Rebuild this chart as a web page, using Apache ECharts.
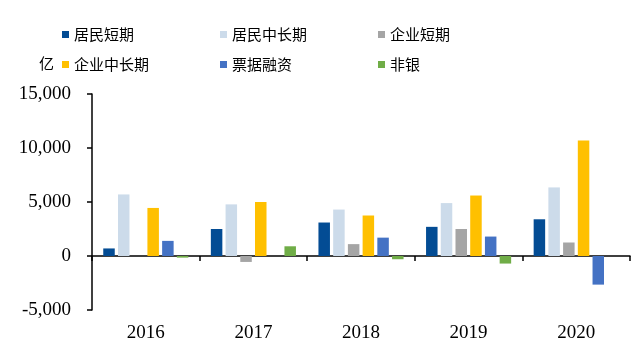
<!DOCTYPE html>
<html><head><meta charset="utf-8">
<script src="https://cdn.jsdelivr.net/npm/echarts@6/dist/echarts.min.js"></script>
<style>html,body{margin:0;padding:0;background:#fff}#c{width:636px;height:354px}</style>
</head><body><div id="c"></div>
<script>
var categories = ['2016','2017','2018','2019','2020'];
var seriesNames = ['居民短期','居民中长期','企业短期','企业中长期','票据融资','非银'];
var hhShort   = [700, 2500, 3100, 2700, 3400];
var hhLong    = [5700, 4780, 4300, 4900, 6350];
var corpShort = [0, -550, 1100, 2500, 1250];
var corpLong  = [4450, 5000, 3750, 5600, 10700];
var bills     = [1400, 0, 1700, 1800, -2650];
var nonBank   = [-150, 900, -300, -700, 0];
var yTicks = [-5000, 0, 5000, 10000, 15000];

var values = [hhShort, hhLong, corpShort, corpLong, bills, nonBank];
var colors = ['#034C94','#CCDBEA','#A5A5A5','#FFC000','#4472C4','#70AD47'];
var serif = '"Liberation Serif","Times New Roman",serif';
var cjk = '"Noto Sans CJK SC",sans-serif';

var legendPos = [[62,27],[220,27],[378,27],[62,57],[220,57],[378,57]];
var legends = seriesNames.map(function(n,i){
  return {data:[n], left:legendPos[i][0], top:legendPos[i][1], padding:0, itemWidth:7, itemHeight:7, itemGap:0,
    icon:'rect', textStyle:{fontFamily:cjk, fontSize:15, color:'#000'}};
});

var chart = echarts.init(document.getElementById('c'));
chart.setOption({
  animation:false,
  title:{text:'亿', left:34, top:51, textStyle:{fontFamily:cjk, fontSize:15, fontWeight:'normal', color:'#000'}},
  legend: legends,
  grid:{left:92, right:6, top:94, bottom:44},
  xAxis:[
    {type:'category', data:categories, axisLine:{onZero:true, lineStyle:{color:'#000', width:1.5}},
     axisTick:{show:true, inside:false, length:5, lineStyle:{color:'#000', width:1.5}},
     axisLabel:{show:false}},
    {type:'category', data:categories, position:'bottom', axisLine:{show:false}, axisTick:{show:false},
     axisLabel:{fontFamily:serif, fontSize:19, color:'#000', margin:14}}
  ],
  yAxis:{type:'value', min:yTicks[0], max:yTicks[yTicks.length-1], interval:5000,
    axisLine:{show:true, lineStyle:{color:'#000', width:1.5}},
    axisTick:{show:true, length:5, lineStyle:{color:'#000', width:1.5}},
    splitLine:{show:false},
    axisLabel:{fontFamily:serif, fontSize:19, color:'#000', margin:21,
      formatter:function(v){return v.toLocaleString('en-US');}}},
  series: seriesNames.map(function(n,i){
    return {name:n, type:'bar', data:values[i], xAxisIndex:0, barWidth:11.5, barGap:'28%',
      itemStyle:{color:colors[i]}};
  })
});
</script></body></html>
